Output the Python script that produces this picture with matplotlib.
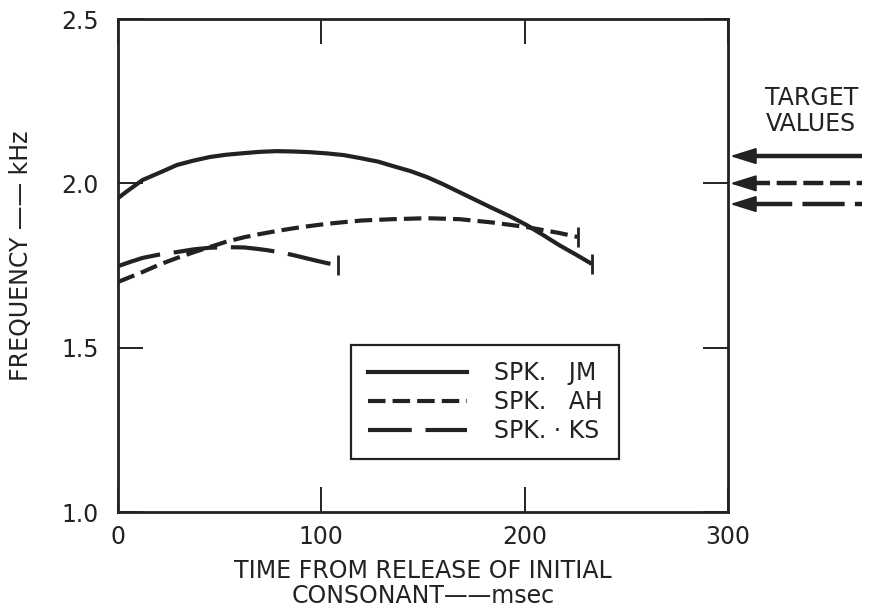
import matplotlib.pyplot as plt
from matplotlib.lines import Line2D

# second formant tracks (kHz) against time from consonant release (msec)
time_jm = [0, 4, 12, 21, 29, 37, 45, 53, 62, 70, 78, 86, 94, 103, 111, 119, 128,
           135, 144, 152, 160, 168, 176, 184, 193, 201, 209, 217, 225, 233]
freq_jm = [1.955, 1.974, 2.010, 2.034, 2.056, 2.069, 2.080, 2.087, 2.092, 2.096,
           2.098, 2.097, 2.095, 2.091, 2.086, 2.077, 2.066, 2.053, 2.037, 2.019,
           1.997, 1.973, 1.949, 1.925, 1.899, 1.873, 1.843, 1.812, 1.784, 1.755]

time_ah = [0, 6, 12, 20, 29, 37, 45, 53, 62, 70, 78, 86, 94, 103, 111, 120, 135,
           152, 168, 184, 201, 209, 217, 226]
freq_ah = [1.700, 1.715, 1.730, 1.752, 1.773, 1.790, 1.806, 1.822, 1.836, 1.846,
           1.855, 1.863, 1.870, 1.877, 1.882, 1.887, 1.891, 1.894, 1.891, 1.881,
           1.867, 1.858, 1.849, 1.837]

time_ks = [0, 6, 12, 20, 29, 37, 45, 53, 62, 68, 73, 80, 86, 92, 98, 103, 108]
freq_ks = [1.748, 1.761, 1.773, 1.783, 1.791, 1.799, 1.804, 1.806, 1.805, 1.801,
           1.797, 1.790, 1.782, 1.773, 1.764, 1.757, 1.751]

speakers = ['SPK.   JM', 'SPK.   AH', 'SPK. \u00b7 KS']
targets = [2.083, 2.000, 1.937]

x_ticks = [0, 100, 200, 300]
y_ticks = [1.0, 1.5, 2.0, 2.5]

plt.rcParams['font.family'] = 'DejaVu Sans'
ink = '#222222'
fs = 17

fig = plt.figure(figsize=(8.73, 6.14), dpi=100)
ax = fig.add_axes([0.1352, 0.1661, 0.6987, 0.8029])

styles = [
    dict(linestyle='-'),
    dict(linestyle=(0, (4.2, 1.7))),
    dict(linestyle=(0, (10.5, 3.3))),
]
lw = 3.0
for (t, f), st in zip([(time_jm, freq_jm), (time_ah, freq_ah), (time_ks, freq_ks)], styles):
    ax.plot(t, f, color=ink, lw=lw, marker='|', markevery=[-1],
            markersize=15, markeredgewidth=2.0, solid_capstyle='butt',
            dash_capstyle='butt', **st)

ax.set_xlim(0, 300)
ax.set_ylim(1.0, 2.5)
ax.set_xticks(x_ticks)
ax.set_yticks(y_ticks)
ax.set_xticklabels([str(v) for v in x_ticks])
ax.set_yticklabels([f'{v:.1f}' for v in y_ticks])
ax.tick_params(direction='in', length=18, width=1.4, color=ink,
               top=True, right=True, labelsize=fs, labelcolor=ink)
ax.tick_params(axis='y', pad=14)
ax.tick_params(axis='x', pad=9)
for sp in ax.spines.values():
    sp.set_linewidth(2.0)
    sp.set_color(ink)

ax.set_xlabel('TIME FROM RELEASE OF INITIAL\nCONSONANT\u2014\u2014msec',
              fontsize=fs, color=ink, linespacing=1.05)
ax.xaxis.set_label_coords(0.5, -0.095)
ax.set_ylabel('FREQUENCY \u2014\u2014 kHz', fontsize=fs, color=ink)
ax.yaxis.set_label_coords(-0.14, 0.52)

# legend
handles = [Line2D([], [], color=ink, lw=lw, **st) for st in styles]
leg = ax.legend(handles, speakers, loc='upper left', bbox_to_anchor=(0.382, 0.339),
                borderaxespad=0, fontsize=fs, handlelength=4.2, handletextpad=1.15,
                labelspacing=0.2, borderpad=0.7, fancybox=False, framealpha=1,
                edgecolor=ink)
leg.get_frame().set_linewidth(1.6)
for txt in leg.get_texts():
    txt.set_color(ink)

# target value arrows outside the right spine
ax.text(341, 2.22, 'TARGET\nVALUES', fontsize=fs, ha='center', va='center',
        color=ink, linespacing=1.1)
shaft_styles = ['-', (0, (4.5, 1.5)), (0, (9.5, 2.3))]
for tv, ls in zip(targets, shaft_styles):
    ax.plot([311, 366], [tv, tv], color=ink, lw=3.2, linestyle=ls,
            clip_on=False, solid_capstyle='butt', dash_capstyle='butt')
    ax.annotate('', xy=(301, tv), xytext=(313, tv),
                arrowprops=dict(arrowstyle='-|>,head_length=0.8,head_width=0.25',
                                mutation_scale=20, color=ink, lw=1.5,
                                shrinkA=0, shrinkB=0),
                annotation_clip=False)

fig.savefig('out.png', dpi=100)
